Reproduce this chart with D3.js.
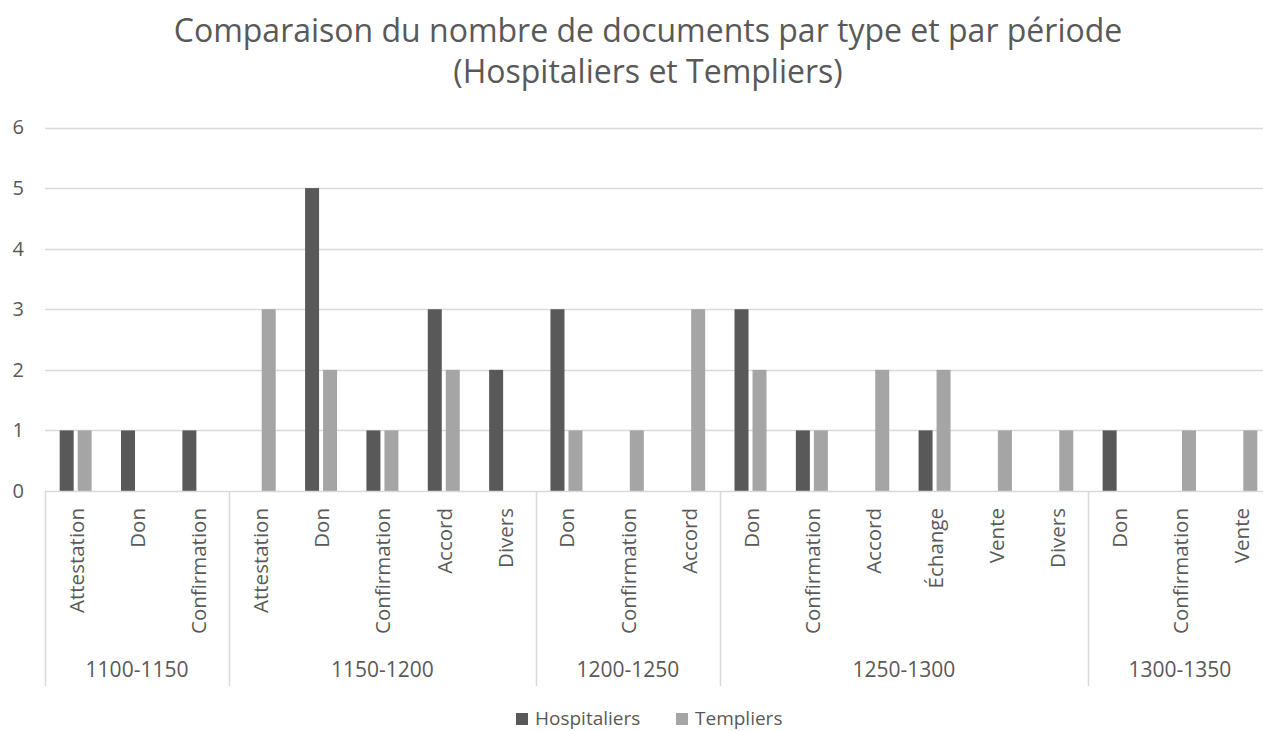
<!DOCTYPE html>
<html lang="fr">
<head>
<meta charset="utf-8">
<script src="https://cdn.jsdelivr.net/npm/d3@7/dist/d3.min.js"></script>
<style>
  html, body { margin: 0; padding: 0; background: #fff; }
  svg { display: block; font-family: "Open Sans", "Noto Sans", sans-serif; }
</style>
</head>
<body>
<svg id="chart" width="1263" height="731"></svg>
<script>
// Periods and the document types recorded in each one
const periods = ["1100-1150", "1150-1200", "1200-1250", "1250-1300", "1300-1350"];
const typesByPeriod = [
  ["Attestation", "Don", "Confirmation"],
  ["Attestation", "Don", "Confirmation", "Accord", "Divers"],
  ["Don", "Confirmation", "Accord"],
  ["Don", "Confirmation", "Accord", "Échange", "Vente", "Divers"],
  ["Don", "Confirmation", "Vente"]
];
// Document counts, in the same order as the types above
const hospitaliers = [1, 1, 1,  0, 5, 1, 3, 2,  3, 0, 0,  3, 1, 0, 1, 0, 0,  1, 0, 0];
const templiers    = [1, 0, 0,  3, 2, 1, 2, 0,  1, 1, 3,  2, 1, 2, 2, 1, 1,  0, 1, 1];
const seriesNames = ["Hospitaliers", "Templiers"];
const seriesColors = ["#595959", "#a5a5a5"];
const yTicks = [0, 1, 2, 3, 4, 5, 6];

// Flatten into one row per category
const rows = [];
typesByPeriod.forEach((types, p) => types.forEach(t => rows.push({ period: periods[p], type: t })));
rows.forEach((r, i) => { r.id = i; r.values = [hospitaliers[i], templiers[i]]; });

const svg = d3.select("#chart");
const textColor = "#595959";
const gridColor = "#d9d9d9";

const plotLeft = 45, plotRight = 1272, plotTop = 127.5, plotBottom = 491;

const x = d3.scaleBand().domain(rows.map(r => r.id)).range([plotLeft, plotRight]).padding(0);
const y = d3.scaleLinear().domain([0, 6]).range([plotBottom, plotTop]);
const xSub = d3.scaleBand().domain(seriesNames).range([0, 32]).paddingInner(2 / 9);

// Title
const title = svg.append("text")
  .attr("text-anchor", "middle")
  .attr("fill", textColor).style("font-size", "32px");
title.append("tspan").attr("x", 648).attr("y", 42).text("Comparaison du nombre de documents par type et par période");
title.append("tspan").attr("x", 648).attr("y", 83).text("(Hospitaliers et Templiers)");

// Horizontal gridlines
svg.append("g").selectAll("line").data(yTicks.filter(d => d > 0)).join("line")
  .attr("x1", plotLeft).attr("x2", plotRight)
  .attr("y1", d => Math.round(y(d)) + 0.5).attr("y2", d => Math.round(y(d)) + 0.5)
  .attr("stroke", gridColor).attr("stroke-width", 1.5);

// Y axis labels
const yAxis = svg.append("g").attr("transform", `translate(${plotLeft},0)`)
  .call(d3.axisLeft(y).tickValues(yTicks).tickFormat(d3.format("d")).tickSize(0).tickPadding(21));
yAxis.select(".domain").remove();
yAxis.selectAll("text").attr("fill", textColor)
  .style("font-size", "20px").style("font-family", "Open Sans, sans-serif");

// Bars
const groups = svg.append("g").selectAll("g").data(rows).join("g")
  .attr("transform", r => `translate(${x(r.id) + x.bandwidth() / 2 - 16},0)`);
groups.selectAll("rect").data(r => r.values.map((v, i) => ({ v, s: seriesNames[i], c: seriesColors[i] })))
  .join("rect")
  .attr("x", d => xSub(d.s))
  .attr("width", xSub.bandwidth())
  .attr("y", d => y(d.v))
  .attr("height", d => y(0) - y(d.v))
  .attr("fill", d => d.c);

// Category axis: baseline, type labels, period labels and separators
const axisG = svg.append("g");
axisG.append("line")
  .attr("x1", plotLeft).attr("x2", plotRight)
  .attr("y1", plotBottom + 0.5).attr("y2", plotBottom + 0.5)
  .attr("stroke", gridColor).attr("stroke-width", 1.5);

axisG.selectAll("text.type").data(rows).join("text")
  .attr("class", "type")
  .attr("transform", r => `translate(${x(r.id) + x.bandwidth() / 2 + 8},508) rotate(-90)`)
  .attr("text-anchor", "end")
  .attr("fill", textColor).style("font-size", "20.5px")
  .text(r => r.type);

let start = 0;
const periodSpans = typesByPeriod.map((types, p) => {
  const s = { period: periods[p], first: start, last: start + types.length - 1 };
  start += types.length;
  return s;
});
const sepBottom = 686;
axisG.selectAll("line.sep").data(periodSpans).join("line")
  .attr("class", "sep")
  .attr("x1", d => Math.round(x(d.first)) + 0.5).attr("x2", d => Math.round(x(d.first)) + 0.5)
  .attr("y1", plotBottom).attr("y2", sepBottom)
  .attr("stroke", gridColor).attr("stroke-width", 1.5);
axisG.selectAll("text.period").data(periodSpans).join("text")
  .attr("class", "period")
  .attr("x", d => (x(d.first) + x(d.last) + x.bandwidth()) / 2)
  .attr("y", 677)
  .attr("text-anchor", "middle")
  .attr("fill", textColor).style("font-size", "21px")
  .text(d => d.period);

// Legend
const legend = svg.append("g");
const legendItems = [{ name: seriesNames[0], color: seriesColors[0], x: 516 }, { name: seriesNames[1], color: seriesColors[1], x: 676 }];
legend.selectAll("rect").data(legendItems).join("rect")
  .attr("x", d => d.x).attr("y", 713).attr("width", 12).attr("height", 12)
  .attr("fill", d => d.color);
legend.selectAll("text").data(legendItems).join("text")
  .attr("x", d => d.x + 19).attr("y", 725)
  .attr("fill", textColor).style("font-size", "19px")
  .text(d => d.name);
</script>
</body>
</html>
